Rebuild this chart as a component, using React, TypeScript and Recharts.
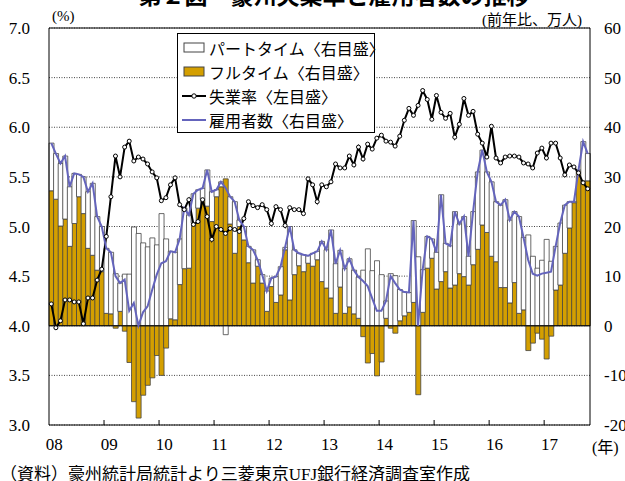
import React from 'react';
import { ComposedChart, Bar, Line, XAxis, YAxis, CartesianGrid, ReferenceLine } from 'recharts';

// monthly, Jan 2008 - Oct 2017
const years = ['08', '09', '10', '11', '12', '13', '14', '15', '16', '17'];

// unemployment rate (%), left axis
const unemployment = [
  4.22, 3.98, 4.05, 4.26, 4.26, 4.24, 4.24, 4.02, 4.28, 4.28, 4.46, 4.57,
  4.9, 5.3, 5.71, 5.5, 5.8, 5.86, 5.66, 5.7, 5.68, 5.63, 5.55, 5.49,
  5.26, 5.29, 5.42, 5.49, 5.22, 5.17, 5.27, 5.02, 5.05, 5.27, 5.1, 4.87,
  5.0, 4.97, 4.93, 4.98, 4.97, 4.95, 5.08, 5.25, 5.21, 5.19, 5.22, 5.17,
  5.03, 5.2, 5.17, 5.01, 5.19, 5.17, 5.17, 5.13, 5.48, 5.42, 5.25, 5.42,
  5.4, 5.45, 5.63, 5.59, 5.59, 5.71, 5.62, 5.8, 5.68, 5.83, 5.78, 5.89,
  5.92, 5.86, 5.85, 5.81, 5.91, 6.07, 6.19, 6.12, 6.22, 6.37, 6.28, 6.08,
  6.32, 6.15, 6.09, 6.14, 5.9, 6.03, 6.29, 6.12, 6.16, 5.93, 5.84, 5.7,
  6.01, 5.69, 5.64, 5.7, 5.71, 5.71, 5.7, 5.64, 5.63, 5.59, 5.74, 5.79,
  5.69, 5.84, 5.84, 5.69, 5.52, 5.62, 5.6, 5.54, 5.44, 5.38,
];

// full-time employment, y/y change (10k persons), right axis
const fullTime = [
  27.2, 25.5, 20.1, 21.5, 16.0, 20.6, 26.0, 22.6, 15.6, 14.2, 11.2, 10.9,
  2.5, 2.4, -0.5, 2.9, -1.1, -7.4, -15.3, -18.6, -14.0, -12.0, -10.5, -6.0,
  -10.0, -4.5, 1.4, 1.2, 8.3, 11.5, 11.6, 20.7, 23.7, 25.4, 24.1, 21.0,
  26.0, 28.0, 29.6, 20.5, 14.6, 20.0, 17.3, 12.7, 8.6, 12.0, 8.6, 2.9,
  7.9, 4.7, 6.2, 15.3, 5.2, 10.3, 12.1, 10.9, 12.6, 12.0, 13.3, 8.9,
  7.6, 5.6, 2.5, 7.8, 2.5, 3.8, 2.4, 1.5, -2.2, -7.5, -5.6, -10.1,
  -7.3, 1.5, -0.5, -1.5, 1.0, 2.0, 2.7, 4.7, -13.9, 2.7, 11.6, 13.6,
  7.4, 8.9, 10.9, 7.6, 8.2, 10.5, 9.9, 8.2, 12.3, 15.4, 20.3, 18.8,
  14.0, 12.9, 7.7, 7.7, 4.6, 8.7, 2.5, 3.2, -5.0, -3.5, -1.5, -2.7,
  -6.7, -2.1, 7.2, 8.2, 14.6, 19.7, 24.8, 31.2, 29.2, 29.2,
];

// part-time employment, y/y change (10k persons), right axis
const partTime = [
  9.6, 9.2, 12.6, 12.7, 12.0, 10.1, 4.5, 7.4, 11.4, 14.5, 10.8, 9.1,
  13.1, 12.4, 10.5, 5.7, 10.4, 10.4, 19.9, 18.6, 16.7, 15.9, 17.7, 16.3,
  22.6, 17.5, 13.6, 13.6, 9.2, 12.2, 10.7, 5.9, 3.7, 2.3, 7.3, 6.0,
  1.4, 1.0, -1.8, 5.5, 10.4, 1.3, 2.7, 3.3, 6.7, 1.3, 1.7, 4.1,
  1.7, 5.2, 5.7, 0.5, 14.8, 5.0, 2.5, 3.4, 1.5, 2.6, 1.7, 8.1,
  7.7, 13.7, 10.0, 7.4, 9.0, 9.7, 8.8, 8.3, 11.2, 15.5, 11.1, 13.1,
  10.3, 3.5, 10.5, 10.1, 6.3, 4.8, 4.0, 16.5, 13.9, 8.6, 6.4, 3.9,
  7.4, 17.5, 5.7, 8.5, 14.8, 10.0, 12.1, 5.8, 10.7, 15.6, 15.1, 12.2,
  15.0, 12.1, 16.6, 17.7, 16.7, 14.3, 19.5, 14.6, 18.3, 14.0, 11.6, 13.2,
  17.4, 13.0, 8.8, 12.5, 9.7, 5.3, 0.2, 0.2, 7.9, 5.5,
];

// total employment, y/y change (10k persons), right axis
const employment = [
  36.8, 34.7, 32.7, 34.2, 28.0, 30.7, 30.5, 30.0, 27.0, 28.7, 22.0, 20.0,
  15.6, 14.8, 10.0, 8.6, 9.3, 3.0, 4.6, 0.0, 2.7, 3.9, 7.2, 10.3,
  12.6, 13.0, 15.0, 14.8, 17.5, 23.7, 22.3, 26.6, 27.4, 27.7, 31.4, 27.0,
  27.4, 29.0, 27.8, 26.0, 25.0, 21.3, 20.0, 16.0, 15.3, 13.3, 10.3, 7.0,
  9.6, 9.9, 11.9, 15.8, 20.0, 15.3, 14.6, 14.3, 14.1, 14.6, 15.0, 17.0,
  15.3, 19.3, 12.5, 15.2, 11.5, 13.5, 11.2, 9.8, 9.0, 8.0, 5.5, 3.0,
  3.0, 5.0, 10.0, 8.6, 7.3, 6.8, 6.7, 21.2, 0.0, 11.3, 18.0, 17.5,
  14.8, 26.4, 16.6, 16.1, 23.0, 20.5, 22.0, 14.0, 23.0, 31.0, 35.4, 31.0,
  29.0, 25.0, 24.3, 25.4, 21.3, 23.0, 22.0, 17.8, 13.3, 10.5, 10.1, 10.5,
  10.7, 10.9, 16.0, 20.7, 24.3, 25.0, 25.0, 31.4, 37.1, 34.7,
];

const leftTicks = [3, 3.5, 4, 4.5, 5, 5.5, 6, 6.5, 7];
const rightTicks = [-20, -10, 0, 10, 20, 30, 40, 50, 60];
const yearStarts = years.map((_, k) => k * 12);

const data = unemployment.map((rate, i) => ({
  i,
  rate,
  ft: fullTime[i],
  pt: partTime[i],
  total: employment[i],
}));

const SERIF = '"Liberation Serif", "Times New Roman", "Noto Sans CJK JP", serif';
const GOLD = '#D49F00';
const BLUE = '#6464BC';
const PLOT_LEFT = 49;
const PLOT_RIGHT = 590;
const PLOT_BOTTOM = 425;
const BAND = (PLOT_RIGHT - PLOT_LEFT) / unemployment.length;

// label sits on the January bar, tick mark on the year boundary
const YearTick = ({ x, payload }: any) => {
  const idx = Number(payload.value);
  const edge = x - BAND / 2;
  return (
    <g>
      {idx > 0 && <line x1={edge} x2={edge} y1={PLOT_BOTTOM} y2={PLOT_BOTTOM - 5} stroke="#000" />}
      <text x={x + 3} y={PLOT_BOTTOM + 25} textAnchor="middle" fontSize={17} fontFamily={SERIF} fill="#000">
        {years[idx / 12]}
      </text>
    </g>
  );
};

const LegendRow = ({ kind, text }: { kind: string; text: string }) => (
  <div style={{ display: 'flex', alignItems: 'center', height: 24 }}>
    <svg width={26} height={14} style={{ marginRight: 2, flexShrink: 0 }}>
      {kind === 'pt' && <rect x={3} y={2} width={20} height={9} fill="#fff" stroke="#444" />}
      {kind === 'ft' && <rect x={3} y={2} width={20} height={9} fill={GOLD} stroke="#444" />}
      {kind === 'rate' && (
        <g>
          <line x1={1} x2={25} y1={7} y2={7} stroke="#000" strokeWidth={2} />
          <circle cx={13} cy={7} r={2.2} fill="#fff" stroke="#000" />
        </g>
      )}
      {kind === 'emp' && <line x1={1} x2={25} y1={7} y2={7} stroke={BLUE} strokeWidth={2} />}
    </svg>
    <span style={{ whiteSpace: 'nowrap' }}>{text}</span>
  </div>
);

export default function App() {
  return (
    <div style={{ position: 'absolute', left: 0, top: 0, width: 625, height: 481, background: '#fff', overflow: 'hidden', fontFamily: SERIF }}>
      <div style={{ position: 'absolute', left: 0, width: 625, top: -15, textAlign: 'center', fontSize: 23, fontWeight: 'bold', lineHeight: '23px', paddingLeft: 43, boxSizing: 'border-box', whiteSpace: 'nowrap' }}>
        第２図　豪州失業率と雇用者数の推移
      </div>
      <ComposedChart
        width={625}
        height={481}
        data={data}
        margin={{ top: 28, right: 0, bottom: 26, left: 0 }}
        barCategoryGap={0}
        barGap={0}
        stackOffset="sign"
      >
        <CartesianGrid yAxisId="left" vertical={false} stroke="#444" strokeDasharray="1 1.5" />
        <XAxis
          dataKey="i"
          type="category"
          ticks={yearStarts}
          interval={0}
          height={30}
          tickLine={false}
          axisLine={{ stroke: '#000' }}
          tick={<YearTick />}
        />
        <YAxis
          yAxisId="left"
          orientation="left"
          domain={[3, 7]}
          ticks={leftTicks}
          width={49}
          tickLine={false}
          tickSize={0}
          tickMargin={19}
          axisLine={{ stroke: '#000' }}
          tickFormatter={(v: number) => v.toFixed(1)}
          tick={{ fontSize: 17, fill: '#000', fontFamily: SERIF }}
          allowDataOverflow
        />
        <YAxis
          yAxisId="right"
          orientation="right"
          domain={[-20, 60]}
          ticks={rightTicks}
          width={35}
          tickLine={false}
          tickSize={0}
          tickMargin={14}
          axisLine={{ stroke: '#000' }}
          tick={{ fontSize: 17, fill: '#000', fontFamily: SERIF, textAnchor: 'start' }}
          allowDataOverflow
        />
        <ReferenceLine yAxisId="left" y={7} stroke="#000" />
        <Bar yAxisId="right" dataKey="ft" stackId="s" fill={GOLD} stroke="#444" strokeWidth={0.8} isAnimationActive={false} />
        <Bar yAxisId="right" dataKey="pt" stackId="s" fill="#fff" stroke="#444" strokeWidth={0.8} isAnimationActive={false} />
        <ReferenceLine yAxisId="right" y={0} stroke="#000" />
        <Line
          yAxisId="left"
          dataKey="rate"
          stroke="#000"
          strokeWidth={2}
          dot={{ r: 2, fill: '#fff', stroke: '#000', strokeWidth: 1 }}
          isAnimationActive={false}
        />
        <Line yAxisId="right" dataKey="total" stroke={BLUE} strokeWidth={2} dot={false} isAnimationActive={false} />
      </ComposedChart>

      <div style={{ position: 'absolute', left: 177, top: 33, width: 198, height: 100, border: '1px solid #000', background: '#fff', fontSize: 16, padding: '2px 0 0 3px', boxSizing: 'border-box' }}>
        <LegendRow kind="pt" text="パートタイム〈右目盛〉" />
        <LegendRow kind="ft" text="フルタイム〈右目盛〉" />
        <LegendRow kind="rate" text="失業率〈左目盛〉" />
        <LegendRow kind="emp" text="雇用者数〈右目盛〉" />
      </div>

      <div style={{ position: 'absolute', left: 52, top: 8, fontSize: 15 }}>(%)</div>
      <div style={{ position: 'absolute', left: 482, top: 8, fontSize: 15, whiteSpace: 'nowrap' }}>(前年比、万人)</div>
      <div style={{ position: 'absolute', left: 592, top: 434, fontSize: 16 }}>(年)</div>
      <div style={{ position: 'absolute', left: 0, top: 460, fontSize: 17, whiteSpace: 'nowrap' }}>
        （資料）豪州統計局統計より三菱東京UFJ銀行経済調査室作成
      </div>
    </div>
  );
}
